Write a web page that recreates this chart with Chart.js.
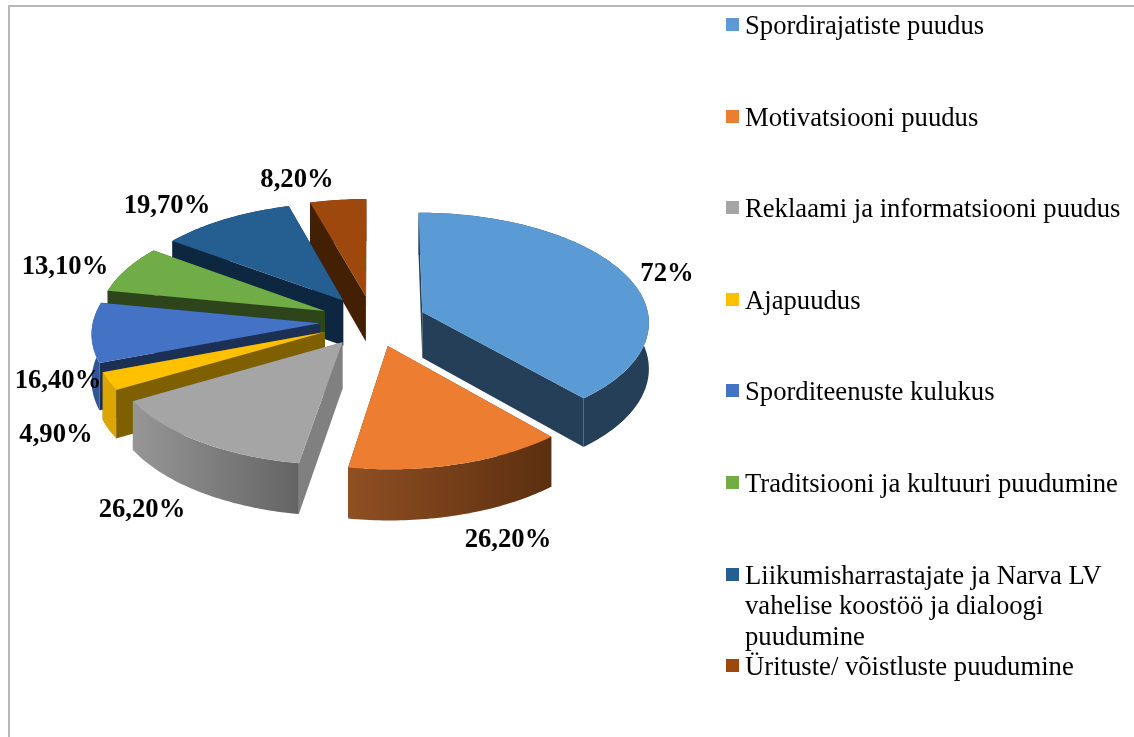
<!DOCTYPE html>
<html>
<head>
<meta charset="utf-8">
<title>Pie 3D</title>
<script src="https://cdn.jsdelivr.net/npm/chart.js@4"></script>
<style>
    html, body { margin: 0; padding: 0; background: #fff; }
    #wrap { position: relative; width: 1134px; height: 737px; overflow: hidden; }
    #frame { position: absolute; left: 8px; top: 5px; right: 0; bottom: 0; border-left: 2px solid #b8b8b8; border-top: 2px solid #b8b8b8; }
    canvas { position: absolute; left: 0; top: 0; }
    #legend { position: absolute; left: 726px; top: 10px; width: 400px; font: 26.67px/30.5px "Liberation Serif", serif; color: #000; }
    .legend-item { position: relative; height: 91.6px; padding-left: 19px; box-sizing: border-box; }
    .legend-box { position: absolute; left: 0; top: 8px; width: 13px; height: 13px; }
</style>
</head>
<body>
<div id="wrap">
    <div id="frame"></div>
    <canvas id="pie" width="1134" height="737"></canvas>
    <div id="legend"></div>
</div>
<script>
const categories = [
    'Spordirajatiste puudus',
    'Motivatsiooni puudus',
    'Reklaami ja informatsiooni puudus',
    'Ajapuudus',
    'Sporditeenuste kulukus',
    'Traditsiooni ja kultuuri puudumine',
    'Liikumisharrastajate ja Narva LV vahelise koostöö ja dialoogi puudumine',
    'Ürituste/ võistluste puudumine'
];
const values = [72, 26.2, 26.2, 4.9, 16.4, 13.1, 19.7, 8.2];
const valueLabels = ['72%', '26,20%', '26,20%', '4,90%', '16,40%', '13,10%', '19,70%', '8,20%'];

const topColors = ['#5b9bd5', '#ed7d31', '#a5a5a5', '#ffc000', '#4472c4', '#70ad47', '#255e91', '#9e480e'];
const faceColors = ['#243f57', '#5c2f10', '#808080', '#7f6000', '#1c3055', '#2e451c', '#0e2740', '#431f04'];
const wallLeft = ['#243f57', '#8f4f22', '#969696', '#dba602', '#2f5597', '#2e451c', '#0e2740', '#431f04'];
const wallRight = ['#243f57', '#5c2f10', '#646464', '#dba602', '#2f5597', '#2e451c', '#0e2740', '#431f04'];

// label centres
const labelX = [667, 508, 142, 56, 58, 65, 167, 297];
const labelY = [274, 540, 510, 435, 381, 267, 206, 180];

// fake 3D: the pie plane is tilted and seen in perspective
const tilt = 0.48;
const persp = 0.082;
const depth = 46;
const explode = 53;

function sliceGeometry(arc) {
    const r = arc.outerRadius;
    const mid = (arc.startAngle + arc.endAngle) / 2;
    const ou = Math.cos(mid) * explode, ov = Math.sin(mid) * explode;

    function project(u, v, z) {
        const w = 1 / (1 - persp * v / r);
        return [arc.x + u * w, arc.y + (v * tilt + z) * w];
    }
    const rim = [];
    const steps = Math.max(2, Math.ceil((arc.endAngle - arc.startAngle) * 180 / Math.PI));
    for (let s = 0; s <= steps; s++) {
        const t = arc.startAngle + (arc.endAngle - arc.startAngle) * s / steps;
        rim.push([ou + Math.cos(t) * r, ov + Math.sin(t) * r]);
    }
    return { rim, apex: [ou, ov], project };
}

function fillPoly(ctx, pts, style) {
    ctx.beginPath();
    pts.forEach((p, i) => i ? ctx.lineTo(p[0], p[1]) : ctx.moveTo(p[0], p[1]));
    ctx.closePath();
    ctx.fillStyle = style;
    ctx.fill();
}

function drawSlice(ctx, arc, i) {
    const { rim, apex, project } = sliceGeometry(arc);
    const up = p => project(p[0], p[1], 0);
    const down = p => project(p[0], p[1], depth);

    // cut faces
    [rim[0], rim[rim.length - 1]].forEach(p => {
        fillPoly(ctx, [up(apex), up(p), down(p), down(apex)], faceColors[i]);
    });

    // outer wall, only the part that faces the viewer sets the gradient
    const front = rim.filter((p, k) => {
        const t = arc.startAngle + (arc.endAngle - arc.startAngle) * k / (rim.length - 1);
        return Math.sin(t) >= 0;
    }).map(p => up(p)[0]);
    let style = wallLeft[i];
    if (front.length > 1) {
        const g = ctx.createLinearGradient(Math.min(...front), 0, Math.max(...front), 0);
        g.addColorStop(0, wallLeft[i]);
        g.addColorStop(1, wallRight[i]);
        style = g;
    }
    fillPoly(ctx, rim.map(up).concat(rim.slice().reverse().map(down)), style);

    // top
    fillPoly(ctx, [up(apex)].concat(rim.map(up)), arc.options.backgroundColor);
}

const pie3d = {
    id: 'pie3d',
    beforeDatasetDraw(chart) {
        const ctx = chart.ctx;
        const arcs = chart.getDatasetMeta(0).data;
        const mid = arc => (arc.startAngle + arc.endAngle) / 2;
        arcs.map((a, i) => i)
            .sort((p, q) => Math.sin(mid(arcs[p])) - Math.sin(mid(arcs[q])))
            .forEach(i => drawSlice(ctx, arcs[i], i));
        return false;
    },
    afterDatasetsDraw(chart) {
        const ctx = chart.ctx;
        ctx.save();
        ctx.font = 'bold 26.67px "Liberation Serif", serif';
        ctx.fillStyle = '#000';
        ctx.textAlign = 'center';
        ctx.textBaseline = 'middle';
        valueLabels.forEach((t, i) => ctx.fillText(t, labelX[i], labelY[i]));
        ctx.restore();
    }
};

const chart = new Chart(document.getElementById('pie'), {
    type: 'pie',
    data: {
        labels: categories,
        datasets: [{
            data: values,
            backgroundColor: topColors,
            borderWidth: 0,
            radius: 227
        }]
    },
    plugins: [pie3d],
    options: {
        responsive: false,
        animation: false,
        layout: { padding: { right: 388, bottom: 95 } },
        plugins: { legend: { display: false }, tooltip: { enabled: false } }
    }
});

const legend = document.getElementById('legend');
chart.data.labels.forEach((label, i) => {
    const item = document.createElement('div');
    item.className = 'legend-item';
    item.innerHTML = `<span class="legend-box" style="background:${topColors[i]}"></span>${label}`;
    legend.appendChild(item);
});
</script>
</body>
</html>
